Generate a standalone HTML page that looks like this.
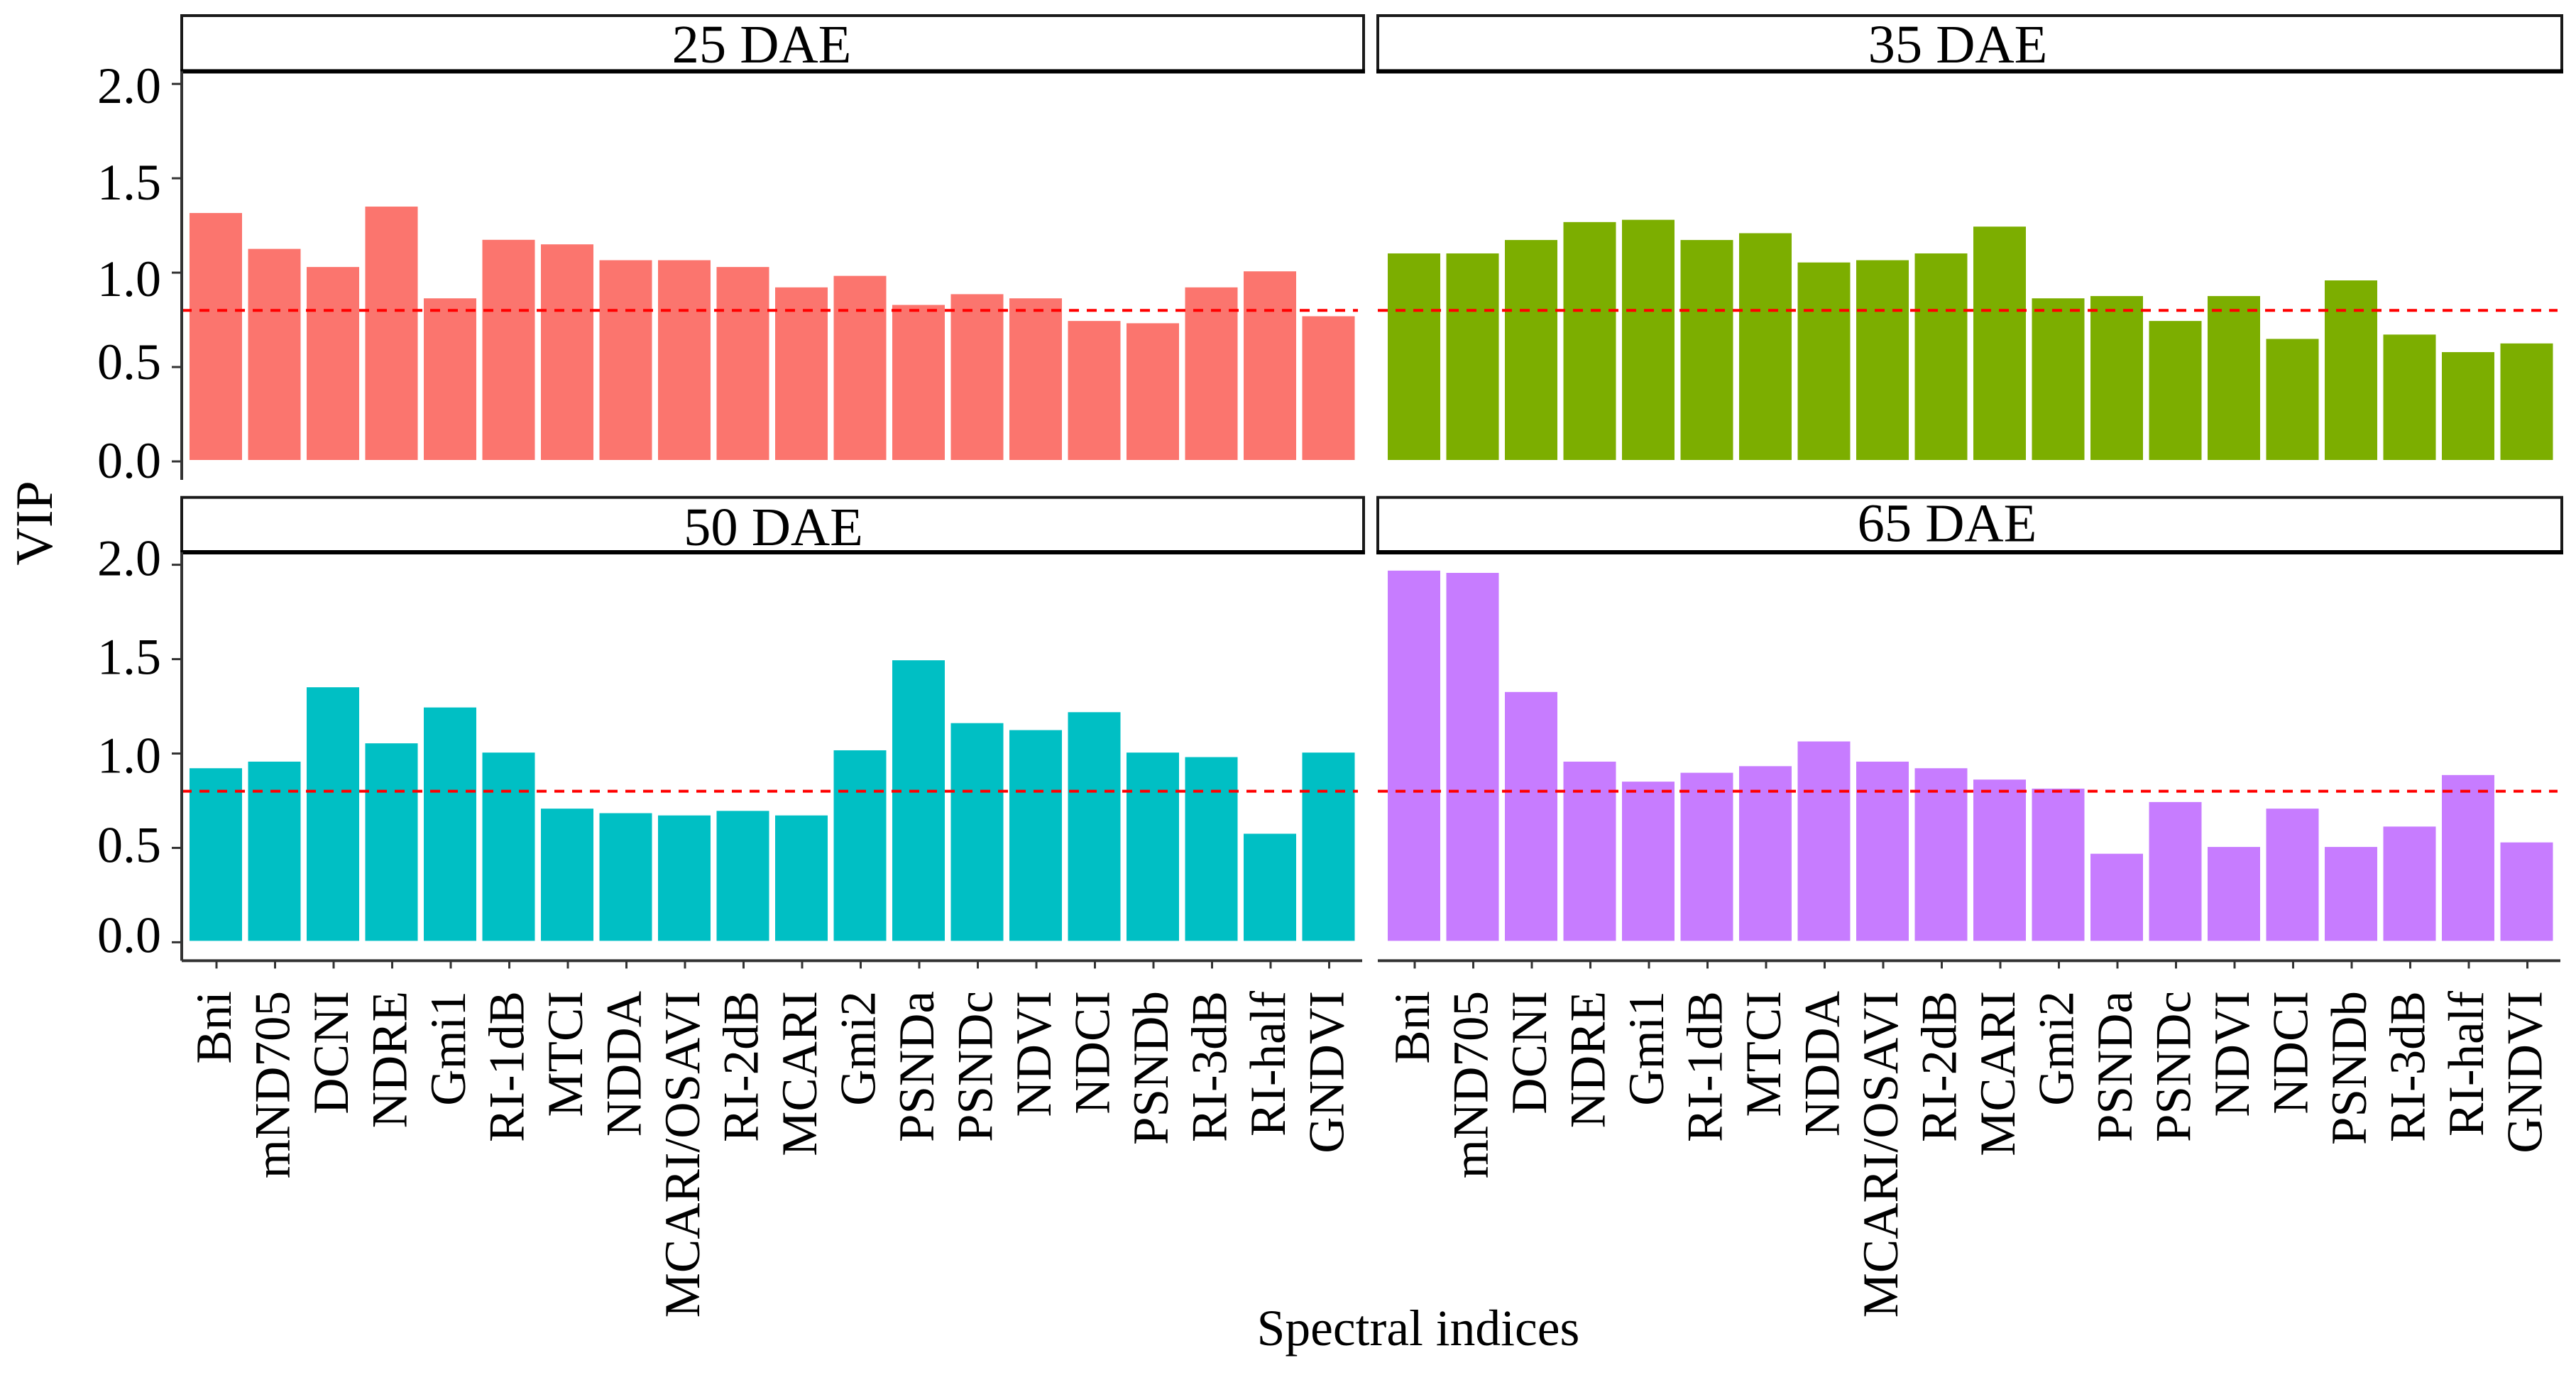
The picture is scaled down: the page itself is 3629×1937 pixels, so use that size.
<!DOCTYPE html>
<html lang="en">
<head>
<meta charset="utf-8">
<title>VIP of spectral indices by days after emergence</title>
<style>
  html, body { margin: 0; padding: 0; background: #ffffff; }
  svg { display: block; }
  text { font-family: "Liberation Serif", "Times New Roman", serif; fill: #000000; }
</style>
</head>
<body>
<svg id="chart" xmlns="http://www.w3.org/2000/svg" width="3629" height="1937" viewBox="0 0 3629 1937"></svg>
<script>
const categories = ["Bni","mND705","DCNI","NDRE","Gmi1","RI-1dB","MTCI","NDDA","MCARI/OSAVI","RI-2dB","MCARI","Gmi2","PSNDa","PSNDc","NDVI","NDCI","PSNDb","RI-3dB","RI-half","GNDVI"];
const values25 = [1.316,1.126,1.03,1.35,0.864,1.174,1.15,1.066,1.066,1.03,0.922,0.983,0.829,0.886,0.864,0.744,0.732,0.922,1.007,0.769];
const values35 = [1.102,1.102,1.173,1.268,1.28,1.173,1.209,1.054,1.066,1.102,1.244,0.864,0.876,0.744,0.876,0.649,0.959,0.672,0.579,0.625];
const values50 = [0.922,0.957,1.351,1.054,1.244,1.005,0.708,0.684,0.672,0.696,0.672,1.017,1.494,1.161,1.124,1.219,1.005,0.981,0.575,1.005];
const values65 = [1.969,1.957,1.326,0.957,0.851,0.898,0.933,1.064,0.957,0.922,0.862,0.814,0.469,0.743,0.505,0.708,0.505,0.613,0.886,0.529];
const yTicks = [2.0,1.5,1.0,0.5,0.0];
const yTickLabels = ["2.0","1.5","1.0","0.5","0.0"];
const threshold = 0.8;
const stripTitles = ["25 DAE","35 DAE","50 DAE","65 DAE"];

const svg = document.getElementById('chart');
const NS = 'http://www.w3.org/2000/svg';
const UNIT = 265.9;
const PITCH = 82.5;
const BAR_W = 74;
const FONT_TICK = 72;
const FONT_CAT = 71;

function make(tag, attrs, parent) {
  const el = document.createElementNS(NS, tag);
  for (const k in attrs) el.setAttribute(k, attrs[k]);
  (parent || svg).appendChild(el);
  return el;
}
function xBand(panel, i) { return panel.x0 + PITCH * i; }
function yScale(panel, v) { return panel.y0 - UNIT * v; }

const panels = [
  { key: 'dae-25', title: stripTitles[0], values: values25, color: '#FB756E', x0: 304, y0: 650, left: 256, right: 1921, stripTop: 22, stripBottom: 100.5, titleX: 1073, titleY: 88, dashEnd: 1913, yAxis: true, xAxis: false, nudges: [27,30,33,17,23] },
  { key: 'dae-35', title: stripTitles[1], values: values35, color: '#7CAE00', x0: 1992, y0: 650, left: 1941, right: 3609, stripTop: 22, stripBottom: 100.5, titleX: 2758, titleY: 88, dashEnd: 3603, yAxis: false, xAxis: false, nudges: [] },
  { key: 'dae-50', title: stripTitles[2], values: values50, color: '#00BFC4', x0: 304, y0: 1327.4, left: 256, right: 1921, stripTop: 700.7, stripBottom: 778, titleX: 1089.5, titleY: 768, dashEnd: 1913, yAxis: true, xAxis: true, nudges: [15,21,27,20,14] },
  { key: 'dae-65', title: stripTitles[3], values: values65, color: '#C77CFF', x0: 1992, y0: 1327.4, left: 1941, right: 3609, stripTop: 700.7, stripBottom: 778, titleX: 2743, titleY: 762.6, dashEnd: 3603, yAxis: false, xAxis: true, nudges: [] }
];

panels.forEach(function (p) {
  const group = make('g', {});
  
  

  // bars
  p.values.forEach(function (v, i) {
    const top = yScale(p, v);
    const base = p.y0 - 2;
    const bar = make('rect', { x: xBand(p, i) - BAR_W / 2, y: top, width: BAR_W, height: base - top, fill: p.color }, group);
    
    
  });

  // threshold
  const dash = make('line', { x1: p.left, x2: p.dashEnd, y1: yScale(p, threshold), y2: yScale(p, threshold), stroke: '#ff0000', 'stroke-width': 4, 'stroke-dasharray': '14 11' }, group);
  
  

  // strip
  const stripTopLine = make('rect', { x: p.left, y: p.stripTop, width: p.right - p.left, height: p.stripBottom - p.stripTop, fill: '#ffffff', stroke: '#1a1a1a', 'stroke-width': 4 }, group);
  
  
  const stripBottomLine = make('line', { x1: p.left - 2, x2: p.right + 2, y1: p.stripBottom, y2: p.stripBottom, stroke: '#000000', 'stroke-width': 6 }, group);
  
  
  const stripLabel = make('text', { x: p.titleX, y: p.titleY, 'text-anchor': 'middle', 'font-size': 76.5 }, group);
  stripLabel.textContent = p.title;
  
  

  // y axis
  if (p.yAxis) {
    const yLine = make('line', { x1: p.left, x2: p.left, y1: p.stripBottom, y2: p.y0 + 26, stroke: '#333333', 'stroke-width': 4 }, group);
    
    
    yTicks.forEach(function (t, i) {
      const ty = yScale(p, t);
      const tick = make('line', { x1: p.left - 14, x2: p.left, y1: ty, y2: ty, stroke: '#333333', 'stroke-width': 3 }, group);
      
      
      const lab = make('text', { x: 227, y: ty + p.nudges[i], 'text-anchor': 'end', 'font-size': FONT_TICK }, group);
      lab.textContent = yTickLabels[i];
      
      
    });
  }

  // x axis
  if (p.xAxis) {
    const axisY = p.y0 + 26;
    const xLine = make('line', { x1: p.left, x2: p.right - 2, y1: axisY, y2: axisY, stroke: '#333333', 'stroke-width': 4 }, group);
    
    
    categories.forEach(function (c, i) {
      const cx = xBand(p, i) + 1;
      const tick = make('line', { x1: cx, x2: cx, y1: axisY, y2: axisY + 11, stroke: '#333333', 'stroke-width': 3 }, group);
      
      
      const lab = make('text', { transform: 'translate(' + (cx + 20) + ',1396) rotate(-90)', 'text-anchor': 'end', 'font-size': FONT_CAT }, group);
      lab.textContent = c;
      
      
    });
  }
});

const yTitle = make('text', { transform: 'translate(73,737) rotate(-90)', 'text-anchor': 'middle', 'font-size': 74 });
yTitle.textContent = 'VIP';



const xTitle = make('text', { x: 1998, y: 1895, 'text-anchor': 'middle', 'font-size': 71.5 });
xTitle.textContent = 'Spectral indices';


</script>
</body>
</html>
